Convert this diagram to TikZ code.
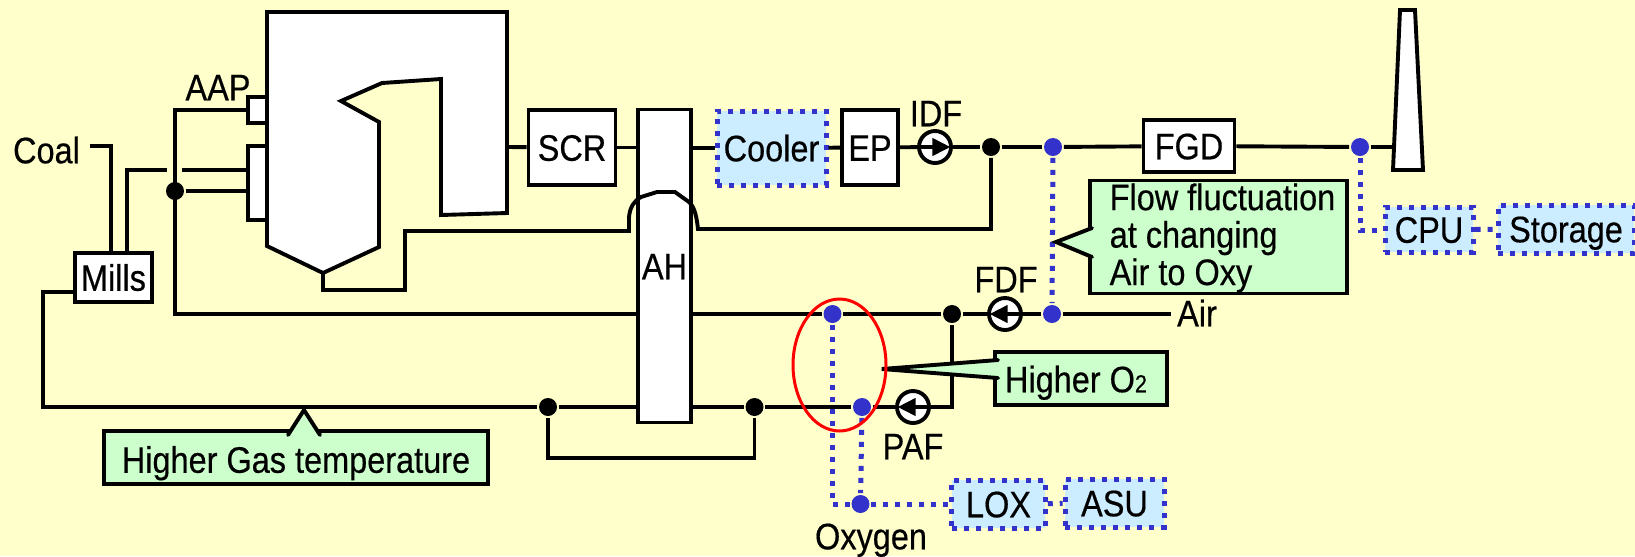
\documentclass[tikz,border=0pt]{standalone}
\usepackage{fontspec}
\setmainfont{Liberation Sans}[FakeStretch=0.88,FakeBold=0.45]
\usetikzlibrary{arrows.meta,shapes.geometric}
\definecolor{pagebg}{HTML}{FFFFCC}
\definecolor{notegreen}{HTML}{CCFFCC}
\definecolor{oxyfill}{HTML}{CCECFF}
\definecolor{oxyblue}{HTML}{3333CC}
\tikzset{
	captext/.style={text height=.53cm,text depth=0pt},
	unit/.style={shape=rectangle,draw=black,fill=white,inner sep=0pt,captext},
	oxyunit/.style={shape=rectangle,draw=oxyblue,fill=oxyfill,inner sep=0pt,captext,line width=.1cm,dash pattern=on .1cm off .14cm},
	oxyline/.style={draw=oxyblue,line width=.1cm,dash pattern=on .1cm off .14cm},
	note/.style={shape=rectangle,draw=black,fill=notegreen,inner sep=0pt,text height=.61cm,text depth=0pt},
	fan/.style={shape=circle,draw=black,fill=white,minimum size=.64cm,inner sep=0pt},
	fanflow/.style={-{Triangle[length=.36cm,width=.34cm]},shorten >=.05cm},
	blackdot/.style={shape=circle,fill=black,minimum size=.36cm,inner sep=0pt},
	bluedot/.style={shape=circle,fill=oxyblue,minimum size=.36cm,inner sep=0pt},
	tag/.style={inner sep=0pt,captext}
}
\begin{document}
\begin{tikzpicture}[x=.02cm,y=-.02cm,line width=.078cm,font=\fontsize{21}{21.3}\selectfont,line join=miter]
	\useasboundingbox (0,0) rectangle (1635,556);
	\fill[pagebg] (0,0) rectangle (1635,556);

	\node[unit,minimum width=.38cm,minimum height=.48cm] (AAPport) at (257.5,110) {};
	\node[unit,minimum width=.38cm,minimum height=1.48cm] (Burner) at (257.5,183) {};
	\filldraw[fill=white,draw=black] (267,12) -- (507,12) -- (507,213) -- (441,215) -- (441,79) -- (382,83) -- (341,101) -- (379,122) -- (379,247) -- (323,273) -- (267,246) -- cycle;

	\node[unit,minimum width=1.54cm,minimum height=.98cm] (Mills) at (113.5,277.5) {Mills};
	\node[unit,minimum width=1.74cm,minimum height=1.5cm] (SCR) at (572,147.5) {SCR};
	\node[unit,minimum width=1.06cm,minimum height=6.26cm] (AH) at (664.5,266) {AH};
	\node[oxyunit,minimum width=2.18cm,minimum height=1.48cm] (Cooler) at (771.5,148) {Cooler};
	\node[unit,minimum width=1.12cm,minimum height=1.5cm] (EP) at (870,147.5) {EP};
	\node[unit,minimum width=1.82cm,minimum height=1.04cm] (FGD) at (1189,146) {FGD};
	\node[oxyunit,minimum width=1.76cm,minimum height=.9cm] (CPU) at (1429,229.5) {CPU};
	\node[oxyunit,minimum width=2.72cm,minimum height=.96cm] (Storage) at (1566,229) {Storage};
	\node[oxyunit,minimum width=1.87cm,minimum height=.96cm] (LOX) at (998.5,504) {LOX};
	\node[oxyunit,minimum width=1.98cm,minimum height=.96cm] (ASU) at (1114.5,503) {ASU};

	\node[fan] (IDF) at (935,147) {};
	\node[fan] (FDF) at (1005,314) {};
	\node[fan] (PAF) at (913,407) {};

	\node[blackdot] (dotAir) at (175,191) {};
	\node[blackdot] (dotGas) at (991,147) {};
	\node[blackdot] (dotFDF) at (952,314) {};
	\node[blackdot] (dotByL) at (548,407) {};
	\node[blackdot] (dotByR) at (754.5,407) {};
	\node[bluedot] (oxyFlue) at (1053,147) {};
	\node[bluedot] (oxyStack) at (1360,147) {};
	\node[bluedot] (oxyAir) at (1052,314) {};
	\node[bluedot] (oxySec) at (832.5,314) {};
	\node[bluedot] (oxyPri) at (862,407) {};
	\node[bluedot] (oxyIn) at (860.5,504) {};

	\node[tag] (Coal) at (46.5,150) {Coal};
	\node[tag] (AAP) at (218,87) {AAP};
	\node[tag] (IDFtag) at (936,113) {IDF};
	\node[tag] (FDFtag) at (1006,279) {FDF};
	\node[tag] (PAFtag) at (913,446) {PAF};
	\node[tag] (Air) at (1197,313) {Air};
	\node[tag] (Oxygen) at (871,536) {Oxygen};

	\coordinate (coalIn) at (90,146);
	\coordinate (coalTop) at (110.7,146);
	\coordinate (coalOut) at (110.7,253);
	\coordinate (pfOut) at (127,253);
	\coordinate (pfTop) at (127,170);
	\coordinate (pfGap) at (167,170);
	\coordinate (pfGapR) at (182,170);
	\coordinate (burnerPf) at (248,170);
	\coordinate (burnerAir) at (248,191);
	\coordinate (aapTop) at (175,110);
	\coordinate (airLow) at (175,314);
	\coordinate (boilerOut) at (323,273);
	\coordinate (ashA) at (323,290);
	\coordinate (ashB) at (405,290);
	\coordinate (ashC) at (405,231);
	\coordinate (archL) at (629,231);
	\coordinate (archR) at (698,229);
	\coordinate (gasLow) at (991,229);
	\coordinate (convOut) at (507,147);
	\coordinate (stackIn) at (1393,147);
	\coordinate (millsOut) at (75,292);
	\coordinate (gasA) at (43,292);
	\coordinate (gasB) at (43,407);
	\coordinate (byA) at (548,458);
	\coordinate (byB) at (754.5,458);
	\coordinate (priBend) at (952,407);
	\coordinate (airEnd) at (1171,314);
	\coordinate (secBend) at (832.5,504);
	\coordinate (cpuBend) at (1360,230);

	\draw (coalIn) -- (coalTop) -- (coalOut);
	\draw (pfOut) -- (pfTop) -- (pfGap);
	\path (pfGapR) edge (burnerPf);
	\path (dotAir) edge (burnerAir);
	\draw (AAPport.west) -- (aapTop) -- (airLow) -- (AH.west |- airLow);
	\draw (boilerOut) -- (ashA) -- (ashB) -- (ashC) -- (archL) -- (629,217) .. controls (630,207) and (634,201) .. (641,197) -- (657,192) -- (675,192) -- (689,202) .. controls (693,206) and (696,211) .. (698,229) -- (archR) -- (gasLow) -- (dotGas);
	\path (convOut) edge (SCR);
	\path (SCR) edge (SCR -| AH.west);
	\path (AH.east |- Cooler) edge (Cooler);
	\path (Cooler) edge (EP);
	\path (EP) edge (IDF);
	\path (IDF) edge (dotGas);
	\path (dotGas) edge (oxyFlue);
	\path (oxyFlue) edge (FGD);
	\path (FGD) edge (oxyStack);
	\path (oxyStack) edge (stackIn);
	\filldraw[fill=white,draw=black] (1400,10) -- (1415,10) -- (1423,170) -- (1393,170) -- cycle;
	\draw (millsOut) -- (gasA) -- (gasB) -- (dotByL);
	\path (dotByL) edge (AH.west |- dotByL);
	\path (AH.east |- dotByR) edge (dotByR);
	\draw (dotByL) -- (byA) -- (byB) -- (dotByR);
	\path (dotByR) edge (oxyPri);
	\path (oxyPri) edge (PAF);
	\draw (PAF) -- (priBend) -- (dotFDF);
	\path (AH.east |- oxySec) edge (oxySec);
	\path (oxySec) edge (dotFDF);
	\path (dotFDF) edge (FDF);
	\path (FDF) edge (oxyAir);
	\path (oxyAir) edge (airEnd);

	\path (IDF.west) edge[fanflow] (IDF.east);
	\path (FDF.east) edge[fanflow] (FDF.west);
	\path (PAF.east) edge[fanflow] (PAF.west);

	\draw[oxyline] (oxyFlue) -- (oxyAir);
	\draw[oxyline] (oxyStack) -- (cpuBend) -- (CPU.west |- cpuBend);
	\draw[oxyline] (CPU) -- (Storage);
	\draw[oxyline] (oxySec) -- (secBend) -- (oxyIn);
	\draw[oxyline] (oxyPri) -- (oxyIn);
	\draw[oxyline] (oxyIn) -- (LOX);
	\draw[oxyline] (LOX) -- (ASU);

	\node[note,minimum width=7.68cm,minimum height=1.06cm] (noteGas) at (296,457.5) {Higher Gas temperature};
	\node[note,minimum width=5.14cm,minimum height=2.26cm,text height=1.92cm,align=left] (noteFlow) at (1218.5,237) {\hspace*{.16cm}Flow fluctuation\\\hspace*{.16cm}at changing\\\hspace*{.16cm}Air to Oxy};
	\node[note,minimum width=3.43cm,minimum height=1.06cm,text height=.55cm] (noteOxy) at (1081,378.5) {Higher O{\fontsize{14}{14}\selectfont 2}\hspace*{.2cm}};

	\coordinate (gasTip) at (304,410);
	\coordinate (gasBaseL) at (288,435);
	\coordinate (gasBaseR) at (320,435);
	\coordinate (flowTip) at (1056,242);
	\coordinate (flowBaseT) at (1092,228);
	\coordinate (flowBaseB) at (1092,257);
	\coordinate (oxyTip) at (881.7,369);
	\coordinate (oxyBaseT) at (998,360);
	\coordinate (oxyBaseB) at (998,378);

	\fill[notegreen] (gasBaseL) -- (gasTip) -- (gasBaseR) -- cycle;
	\draw[line cap=round] (gasBaseL) -- (gasTip) -- (gasBaseR);
	\fill[notegreen] (flowBaseT) -- (flowTip) -- (flowBaseB) -- cycle;
	\draw[line cap=round] (flowBaseT) -- (flowTip) -- (flowBaseB);
	\fill[notegreen] (oxyBaseT) -- (oxyTip) -- (oxyBaseB) -- cycle;
	\draw[line cap=round] (oxyBaseT) -- (oxyTip) -- (oxyBaseB);

	\node[shape=ellipse,draw=red,line width=.06cm,minimum width=1.86cm,minimum height=2.64cm,inner sep=0pt] (hotZone) at (839.5,365) {};
\end{tikzpicture}
\end{document}
